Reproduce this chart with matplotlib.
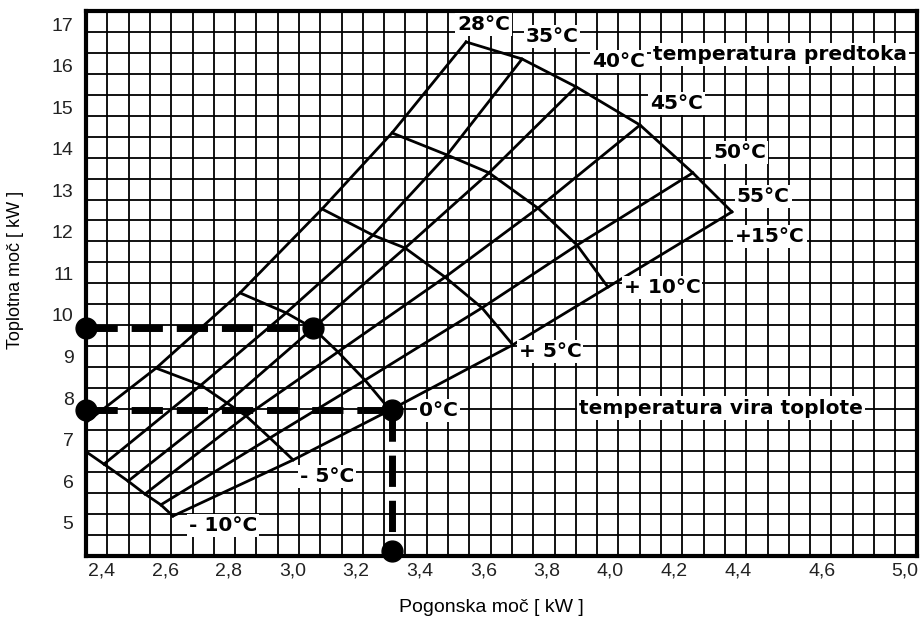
import numpy as np
import matplotlib
matplotlib.use('Agg')
import matplotlib.pyplot as plt

# flow temperature lines (rising to the right) and heat source temperature arcs
flow_temps = [28, 35, 40, 45, 50, 55]
source_temps = [-10, -5, 0, 5, 10, 15]

# driving power [kW] at the crossings, one list per source temperature, columns = flow temps
power_m10 = [2.288, 2.407, 2.483, 2.536, 2.586, 2.624]
power_m5 = [2.571, 2.712, 2.794, 2.854, 2.929, 3.002]
power_0 = [2.835, 2.980, 3.065, 3.143, 3.228, 3.307]
power_p5 = [3.093, 3.253, 3.354, 3.480, 3.596, 3.693]
power_p10 = [3.313, 3.486, 3.618, 3.772, 3.895, 3.992]
power_p15 = [3.546, 3.722, 3.892, 4.093, 4.259, 4.382]

# heating power [kW] at the same crossings
heat_m10 = [7.04, 6.41, 6.00, 5.69, 5.43, 5.16]
heat_m5 = [8.72, 8.31, 7.88, 7.57, 7.04, 6.51]
heat_0 = [10.53, 10.05, 9.68, 9.11, 8.43, 7.71]
heat_p5 = [12.55, 11.92, 11.61, 10.91, 10.17, 9.28]
heat_p10 = [14.38, 13.85, 13.42, 12.57, 11.68, 10.67]
heat_p15 = [16.57, 16.16, 15.49, 14.57, 13.42, 12.48]

# example reading (0 °C source)
example_power = [3.065, 3.312]
example_heat = [9.68, 7.71]

flow_labels = ['28°C', '35°C', '40°C', '45°C', '50°C', '55°C']
source_labels = ['- 10°C', '- 5°C', '0°C', '+ 5°C', '+ 10°C', '+15°C']

xtick_labels = ['2,4', '2,6', '2,8', '3,0', '3,2', '3,4', '3,6', '3,8',
                '4,0', '4,2', '4,4', '4,6', '5,0']
ytick_vals = [5, 6, 7, 8, 9, 10, 11, 12, 13, 14, 15, 16, 17]

# layout (where the printed chart puts things)
xtick_pos = [2.4, 2.6, 2.8, 3.0, 3.2, 3.4, 3.6, 3.8, 4.0, 4.2, 4.4, 4.667, 4.926]
flow_label_xy = [(3.602, 16.98), (3.816, 16.69), (4.024, 16.11),
                 (4.209, 15.08), (4.407, 13.90), (4.480, 12.84)]
source_label_xy = [(2.781, 4.94), (3.108, 6.10), (3.458, 7.71),
                   (3.810, 9.11), (4.162, 10.65), (4.502, 11.88)]
x_min, x_max = 2.3506, 4.963
y_min, y_max = 4.206, 17.315

fig = plt.figure(figsize=(9.22, 6.21), dpi=100)
ax = fig.add_axes([0.0933, 0.1052, 0.9009, 0.8771])
ax.set_xlim(x_min, x_max)
ax.set_ylim(y_min, y_max)

# square paper grid, 39 x 26 cells
ax.set_xticks(np.linspace(x_min, x_max, 40)[1:-1], minor=True)
ax.set_yticks(np.linspace(y_min, y_max, 27)[1:-1], minor=True)
ax.grid(True, which='minor', color='black', linewidth=1.3)
ax.set_axisbelow(True)
ax.set_xticks(xtick_pos, xtick_labels)
ax.set_yticks(ytick_vals, [str(v) for v in ytick_vals])
ax.tick_params(which='both', length=0)
ax.tick_params(axis='x', pad=5, labelsize=14)
ax.tick_params(axis='y', pad=9, labelsize=14)
for lab in ax.get_xticklabels() + ax.get_yticklabels():
    lab.set_fontfamily('Liberation Sans')
    lab.set_color('#222222')
for s in ax.spines.values():
    s.set_linewidth(3)

P = np.array([power_m10, power_m5, power_0, power_p5, power_p10, power_p15])
Q = np.array([heat_m10, heat_m5, heat_0, heat_p5, heat_p10, heat_p15])

# source temperature arcs
for i in range(len(source_temps)):
    ax.plot(P[i], Q[i], color='black', lw=2, solid_joinstyle='round', zorder=3)
# flow temperature lines
for j in range(len(flow_temps)):
    ax.plot(P[:, j], Q[:, j], color='black', lw=2, solid_joinstyle='round', zorder=3)

# example reading: dashed guides + dots
ax.plot([x_min, example_power[0]], [example_heat[0]] * 2, color='black', lw=5,
        dashes=(4.5, 2), zorder=4, clip_on=False)
ax.plot([x_min, example_power[1]], [example_heat[1]] * 2, color='black', lw=5,
        dashes=(4.5, 2), zorder=4, clip_on=False)
ax.plot([example_power[1]] * 2, [example_heat[1], 4.33], color='black', lw=5,
        dashes=(4.5, 2), zorder=4, clip_on=False)
ax.plot([x_min, x_min, example_power[0], example_power[1], example_power[1]],
        [example_heat[0], example_heat[1], example_heat[0], example_heat[1], 4.33],
        'o', color='black', ms=15, zorder=5, clip_on=False)

box = dict(facecolor='white', edgecolor='none', pad=1.5)
lab_font = dict(fontfamily='DejaVu Sans', fontweight='bold', fontsize=14.5,
                ha='center', va='center', zorder=6, bbox=box)
for txt, (x, y) in zip(flow_labels, flow_label_xy):
    ax.text(x, y, txt, **lab_font)
for txt, (x, y) in zip(source_labels, source_label_xy):
    ax.text(x, y, txt, **lab_font)
ax.text(4.533, 16.26, 'temperatura predtoka', **lab_font)
ax.text(4.347, 7.76, 'temperatura vira toplote', **lab_font)

fig.text(491 / 922, 1 - 607 / 621, 'Pogonska moč [ kW ]', ha='center', va='center',
         fontsize=14, fontfamily='Liberation Sans')
fig.text(16 / 922, 1 - 270 / 621, 'Toplotna moč [ kW ]', ha='center', va='center',
         rotation=90, fontsize=13, fontfamily='Liberation Sans')

fig.savefig('out.png', dpi=100)
